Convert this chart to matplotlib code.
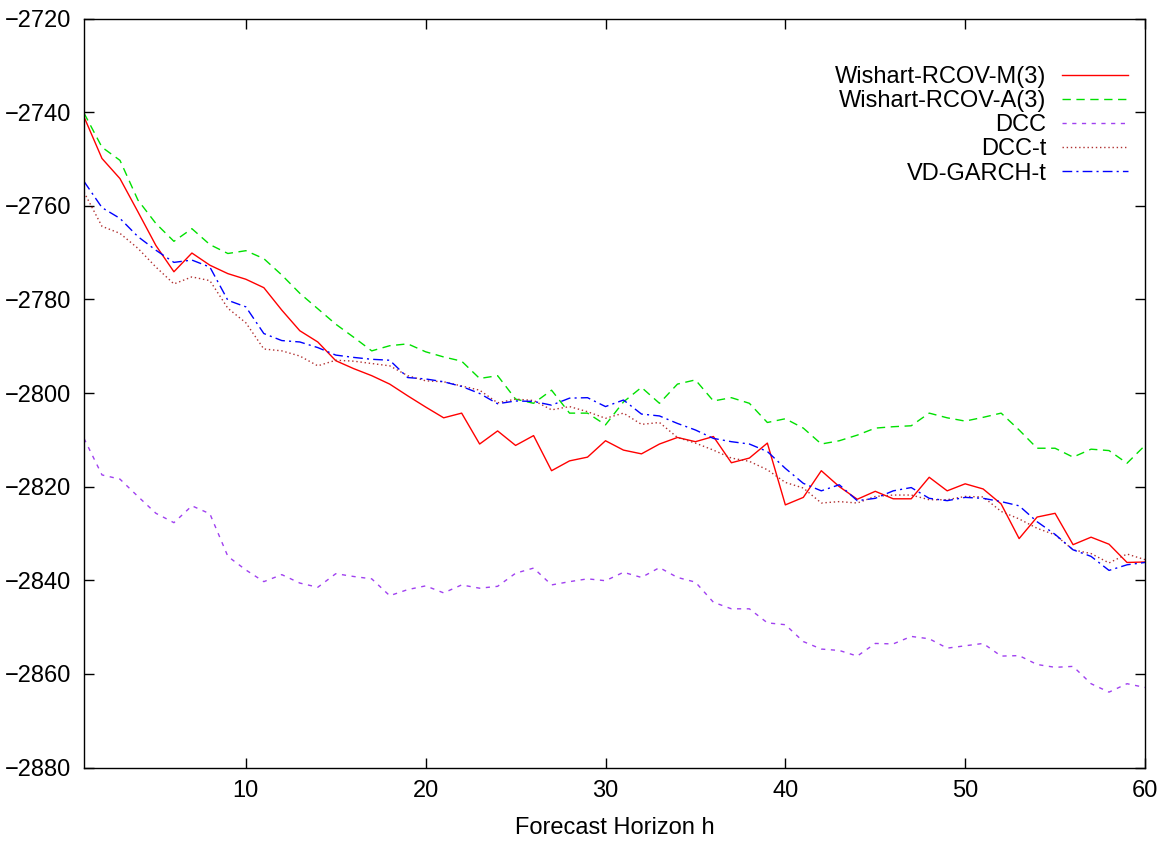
import matplotlib
matplotlib.use("Agg")
import matplotlib.pyplot as plt
import numpy as np

plt.rcParams['font.family'] = ['Liberation Sans', 'DejaVu Sans']

horizon = list(range(1, 61))

wishart_m = [-2741.0, -2749.9, -2754.2, -2761.3, -2768.5, -2774.1, -2770.1, -2772.7, -2774.5, -2775.7,
             -2777.5, -2782.3, -2786.7, -2789.1, -2793.1, -2794.8, -2796.3, -2798.1, -2800.6, -2803.0,
             -2805.3, -2804.3, -2810.9, -2808.1, -2811.2, -2809.1, -2816.6, -2814.5, -2813.7, -2810.2,
             -2812.2, -2813.0, -2810.9, -2809.5, -2810.4, -2809.3, -2814.9, -2813.9, -2810.7, -2823.9,
             -2822.3, -2816.6, -2820.0, -2822.7, -2821.0, -2822.6, -2822.6, -2818.0, -2820.9, -2819.4,
             -2820.5, -2823.7, -2831.1, -2826.5, -2825.7, -2832.4, -2830.8, -2832.3, -2836.2, -2836.1]

wishart_a = [-2740.2, -2747.5, -2750.3, -2758.8, -2763.8, -2767.6, -2764.9, -2768.3, -2770.2, -2769.6,
             -2771.3, -2774.8, -2778.7, -2782.0, -2785.3, -2788.1, -2791.0, -2789.9, -2789.5, -2791.2,
             -2792.3, -2793.2, -2796.9, -2796.3, -2801.3, -2802.2, -2799.4, -2804.3, -2804.3, -2806.8,
             -2801.9, -2798.8, -2802.2, -2798.1, -2797.2, -2801.7, -2801.0, -2802.2, -2806.3, -2805.5,
             -2807.5, -2810.9, -2810.2, -2809.0, -2807.5, -2807.2, -2807.0, -2804.3, -2805.3, -2806.0,
             -2805.2, -2804.3, -2807.9, -2811.8, -2811.8, -2813.7, -2812.0, -2812.3, -2815.0, -2811.2]

dcc = [-2809.7, -2817.5, -2818.4, -2822.1, -2825.7, -2827.7, -2824.1, -2825.8, -2834.9, -2837.8,
       -2840.3, -2838.8, -2840.6, -2841.5, -2838.6, -2839.2, -2839.7, -2843.3, -2842.0, -2841.2,
       -2842.7, -2841.0, -2841.7, -2841.3, -2838.5, -2837.4, -2841.0, -2840.3, -2839.7, -2840.1,
       -2838.3, -2839.4, -2837.3, -2839.4, -2840.4, -2844.7, -2846.1, -2846.1, -2849.1, -2849.5,
       -2853.1, -2854.7, -2855.0, -2856.2, -2853.5, -2853.6, -2852.0, -2852.5, -2854.5, -2854.0,
       -2853.5, -2856.2, -2856.1, -2858.0, -2858.6, -2858.4, -2862.1, -2863.9, -2862.1, -2862.9]

dcc_t = [-2757.1, -2764.4, -2765.9, -2769.1, -2773.1, -2776.7, -2775.2, -2776.0, -2781.9, -2785.0,
         -2790.6, -2791.0, -2792.1, -2794.2, -2793.0, -2793.2, -2793.7, -2794.2, -2796.3, -2797.4,
         -2797.6, -2798.5, -2799.4, -2802.1, -2801.3, -2801.6, -2803.6, -2802.9, -2804.0, -2805.4,
         -2804.3, -2806.7, -2806.3, -2809.5, -2810.7, -2812.2, -2813.9, -2814.6, -2816.4, -2819.1,
         -2820.3, -2823.5, -2823.2, -2823.5, -2822.1, -2821.8, -2821.8, -2822.8, -2822.8, -2822.1,
         -2822.2, -2825.3, -2826.9, -2828.9, -2830.3, -2833.5, -2834.3, -2836.3, -2834.4, -2835.6]

vd_garch_t = [-2754.8, -2760.4, -2762.7, -2766.6, -2769.5, -2772.1, -2771.6, -2773.1, -2780.2, -2781.6,
              -2787.3, -2788.8, -2789.1, -2790.3, -2791.9, -2792.4, -2792.8, -2793.0, -2796.7, -2797.0,
              -2797.6, -2798.6, -2800.1, -2802.3, -2801.7, -2801.8, -2802.6, -2801.1, -2801.0, -2802.9,
              -2801.5, -2804.5, -2804.9, -2806.5, -2807.9, -2809.7, -2810.4, -2810.9, -2812.5, -2816.1,
              -2819.3, -2820.9, -2819.6, -2823.0, -2822.5, -2820.9, -2820.2, -2822.5, -2823.0, -2822.3,
              -2822.5, -2823.2, -2824.1, -2827.5, -2830.2, -2833.5, -2834.9, -2837.9, -2836.7, -2836.2]

labels = ["Wishart-RCOV-M(3)", "Wishart-RCOV-A(3)", "DCC", "DCC-t", "VD-GARCH-t"]
xticks = [10, 20, 30, 40, 50, 60]
yticks = [-2720, -2740, -2760, -2780, -2800, -2820, -2840, -2860, -2880]

W, H = 1172, 843
fig = plt.figure(figsize=(W / 100, H / 100), dpi=100)
ax = fig.add_axes([84 / W, 1 - 767.5 / H, (1145 - 84) / W, (767.5 - 18.5) / H])

lw = 1.0
ax.plot(horizon, wishart_m, color='#ff0000', lw=lw, linestyle='-', label=labels[0])
ax.plot(horizon, wishart_a, color='#00e000', lw=lw, linestyle=(0, (6, 4)), label=labels[1])
ax.plot(horizon, dcc, color='#a040f0', lw=lw, linestyle=(0, (3, 4)), label=labels[2])
ax.plot(horizon, dcc_t, color='#b03030', lw=lw, linestyle=(0, (1, 2)), label=labels[3])
ax.plot(horizon, vd_garch_t, color='#0000ff', lw=lw, linestyle=(0, (7, 3, 1.5, 3)), label=labels[4])

ax.set_xlim(1, 60)
ax.set_ylim(-2880, -2720)
ax.set_xticks(xticks)
ax.set_yticks(yticks)

fs = 17
ax.tick_params(axis='both', which='both', direction='in', length=7, width=1,
               top=True, right=True, labelsize=fs, colors='black')
ax.tick_params(axis='y', pad=9)
ax.tick_params(axis='x', pad=9)
for sp in ax.spines.values():
    sp.set_linewidth(1.0)
    sp.set_color('black')

ax.set_xlabel("Forecast Horizon h", fontsize=fs, labelpad=11)

leg = ax.legend(loc='upper right', bbox_to_anchor=(1128 / W, 1 - 66 / H),
                bbox_transform=fig.transFigure, frameon=False, fontsize=fs,
                markerfirst=False, handlelength=2.8, handletextpad=0.65,
                labelspacing=0.09, borderpad=0, borderaxespad=0)

fig.savefig("out.png", dpi=100)
